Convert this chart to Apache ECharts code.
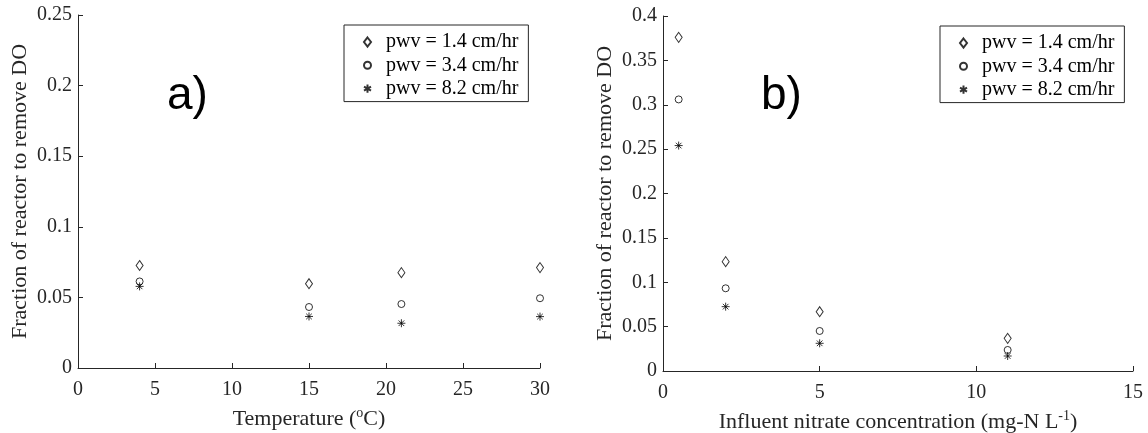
<!DOCTYPE html>
<html><head><meta charset="utf-8">
<script src="https://cdn.jsdelivr.net/npm/echarts@6/dist/echarts.min.js"></script>
<style>html,body{margin:0;padding:0;background:#fff}#c{width:1148px;height:433px}</style>
</head><body><div id="c"></div>
<script>
// ---- data ----
const seriesNames = ['pwv = 1.4 cm/hr', 'pwv = 3.4 cm/hr', 'pwv = 8.2 cm/hr'];
const temperatures = [4, 15, 21, 30];
const tempPwv14 = [0.0726, 0.0597, 0.0675, 0.0711];
const tempPwv34 = [0.0613, 0.0432, 0.0453, 0.0494];
const tempPwv82 = [0.0578, 0.0365, 0.0317, 0.0364];
const nitrate = [0.5, 2, 5, 11];
const nitPwv14 = [0.376, 0.1232, 0.0668, 0.0368];
const nitPwv34 = [0.306, 0.0932, 0.0451, 0.0237];
const nitPwv82 = [0.254, 0.0725, 0.0312, 0.0169];
const tempAxis = {min: 0, max: 30, interval: 5};
const nitAxis = {min: 0, max: 15, interval: 5};
const fracAxisA = {min: 0, max: 0.25, interval: 0.05};
const fracAxisB = {min: 0, max: 0.4, interval: 0.05};
const panelLabels = ['a)', 'b)'];
const yTitle = 'Fraction of reactor to remove DO';

// ---- chart ----
const AX = '#262626';
const SERIF = '"Liberation Serif","Times New Roman",serif';
const starPath = 'path://M5 0 L5 10 M0 5 L10 5 M1.5 1.5 L8.5 8.5 M1.5 8.5 L8.5 1.5';
const starLegendPath = 'path://M5 0 L5 10 M0.7 2.5 L9.3 7.5 M0.7 7.5 L9.3 2.5';
const symbols = [['diamond', [7, 10]], ['circle', 7], [starPath, 8]];
const legendIcons = ['diamond', 'circle', starLegendPath];

function axisCommon() {
  return {
    axisLine: {show: true, onZero: false, lineStyle: {color: AX, width: 1}},
    axisTick: {show: true, inside: true, length: 5, lineStyle: {color: AX}},
    splitLine: {show: false},
    axisLabel: {color: AX, fontFamily: SERIF, fontSize: 20},
    nameTextStyle: {color: AX, fontFamily: SERIF, fontSize: 22}
  };
}
const richSup = {
  sup: {fontSize: 14, fontFamily: SERIF, color: AX, padding: [0, 0, 12, 0]}
};

function mkSeries(xs, ys, k, idx) {
  return {
    type: 'scatter', name: seriesNames[k], xAxisIndex: idx, yAxisIndex: idx,
    data: xs.map((x, i) => [x, ys[i]]),
    symbol: symbols[k][0], symbolSize: symbols[k][1],
    itemStyle: {color: 'rgba(255,255,255,0)', borderColor: '#000', borderWidth: 1},
    emphasis: {disabled: true}, z: 3 - k
  };
}
function mkLegend(left, top) {
  return {
    left: left, top: top, orient: 'vertical',
    data: seriesNames.map((n, k) => ({name: n, icon: legendIcons[k]})),
    padding: [7, 10, 3, 19], itemGap: 3.3, itemWidth: 7, itemHeight: 9,
    borderColor: AX, borderWidth: 1, backgroundColor: '#fff', selectedMode: false,
    textStyle: {fontFamily: SERIF, fontSize: 20, color: '#000', lineHeight: 20, padding: [0, 0, 0, 10]}
  };
}

const chart = echarts.init(document.getElementById('c'), null, {renderer: 'canvas'});
chart.setOption({
  animation: false,
  grid: [
    {left: 78, top: 15, width: 462, height: 353, outerBoundsMode: 'none', containLabel: false},
    {left: 663, top: 16, width: 470, height: 355, outerBoundsMode: 'none', containLabel: false}
  ],
  xAxis: [
    Object.assign(axisCommon(), {gridIndex: 0, type: 'value', min: tempAxis.min, max: tempAxis.max, interval: tempAxis.interval,
      axisLabel: {color: AX, fontFamily: SERIF, fontSize: 20, margin: 12},
      name: 'Temperature ({sup|o}C)', nameLocation: 'middle', nameGap: 38,
      nameTextStyle: {color: AX, fontFamily: SERIF, fontSize: 22, rich: richSup}}),
    Object.assign(axisCommon(), {gridIndex: 1, type: 'value', min: nitAxis.min, max: nitAxis.max, interval: nitAxis.interval,
      axisLabel: {color: AX, fontFamily: SERIF, fontSize: 20, margin: 12},
      name: 'Influent nitrate concentration (mg-N L{sup|-1})', nameLocation: 'middle', nameGap: 38,
      nameTextStyle: {color: AX, fontFamily: SERIF, fontSize: 22, rich: richSup}})
  ],
  yAxis: [
    Object.assign(axisCommon(), {gridIndex: 0, type: 'value', min: fracAxisA.min, max: fracAxisA.max, interval: fracAxisA.interval,
      axisLabel: {color: AX, fontFamily: SERIF, fontSize: 20, margin: 6},
      name: yTitle, nameLocation: 'middle', nameGap: 47}),
    Object.assign(axisCommon(), {gridIndex: 1, type: 'value', min: fracAxisB.min, max: fracAxisB.max, interval: fracAxisB.interval,
      axisLabel: {color: AX, fontFamily: SERIF, fontSize: 20, margin: 6},
      name: yTitle, nameLocation: 'middle', nameGap: 47})
  ],
  legend: [mkLegend(344, 25), mkLegend(940, 26)],
  graphic: [
    {type: 'text', x: 167, y: 96, style: {text: panelLabels[0], font: '46px "Liberation Sans", Arial, sans-serif', fill: '#000', verticalAlign: 'middle'}},
    {type: 'text', x: 761, y: 96, style: {text: panelLabels[1], font: '46px "Liberation Sans", Arial, sans-serif', fill: '#000', verticalAlign: 'middle'}}
  ],
  series: [
    mkSeries(temperatures, tempPwv14, 0, 0),
    mkSeries(temperatures, tempPwv34, 1, 0),
    mkSeries(temperatures, tempPwv82, 2, 0),
    mkSeries(nitrate, nitPwv14, 0, 1),
    mkSeries(nitrate, nitPwv34, 1, 1),
    mkSeries(nitrate, nitPwv82, 2, 1)
  ]
});
</script></body></html>
